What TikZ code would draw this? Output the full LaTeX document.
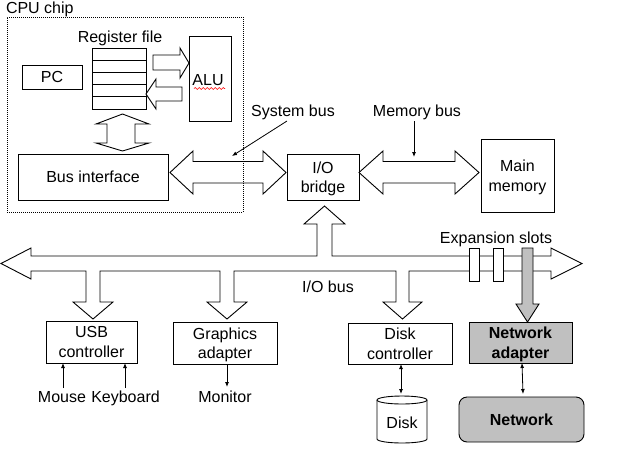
\documentclass[tikz,border=0pt]{standalone}
\usepackage{fontspec}
\setmainfont{Liberation Sans}
\usetikzlibrary{arrows.meta,decorations.pathmorphing}
\definecolor{netgray}{RGB}{192,192,192}
\begin{document}
\begin{tikzpicture}[x=1pt,y=-1pt,
  every node/.style={font=\fontsize{16}{19.5}\selectfont, inner sep=0pt, outer sep=0pt},
  box/.style={draw, line width=0.9pt, align=center},
  ml/.style={text depth=0pt},
  fat/.style={draw, line width=0.9pt, fill=white},
  tarrow/.style={line width=0.8pt, -{Latex[length=5pt,width=4pt]}},
  darrow/.style={line width=0.8pt, {Latex[length=5pt,width=4pt]}-{Latex[length=5pt,width=4pt]}},
  lbl/.style={anchor=base},
  boldtxt/.style={font=\fontsize{16}{19.5}\selectfont\bfseries}]
\useasboundingbox (0,0) rectangle (619,456);

% CPU internals
\node[lbl] (regl) at (120,42) {Register file};
\node[box, minimum width=54pt, minimum height=61pt] (reg) at (119,78.5) {};
\foreach \yy in {60.2,72.4,84.6,96.8} \draw[line width=0.9pt] (92,\yy) -- (146,\yy);
\node[box, minimum width=60pt, minimum height=24pt] (pc) at (52,77) {PC};
\node[box, minimum width=42pt, minimum height=85pt] (alu) at (210,78.5) {};
\node[lbl] (alut) at (208,85) {ALU};
\draw[red, line width=0.6pt, decorate, decoration={snake, amplitude=0.9pt, segment length=4pt}] (194,88.5) -- (225,88.5);

\draw[fat] (153,55) -- (180,55) -- (180,48) -- (189,63) -- (180,78) -- (180,70) -- (153,70) -- cycle;
\draw[fat] (146,94) -- (156,79) -- (156,87) -- (182,87) -- (182,101) -- (156,101) -- (156,109) -- cycle;
\draw[fat] (122.5,114) -- (149,124) -- (135,124) -- (135,143) -- (149,143) -- (122.5,151) -- (96,143) -- (107,143) -- (107,124) -- (96,124) -- cycle;

\node[box, minimum width=150pt, minimum height=46pt] (bi) at (93,177) {Bus interface};

% system bus
\draw[fat] (170,172.5) -- (193,151) -- (193,161.5) -- (263,161.5) -- (263,151) -- (286,172.5) -- (263,194) -- (263,183) -- (193,183) -- (193,194) -- cycle;

% CPU chip border
\node[draw, line width=0.7pt, dash pattern=on 1pt off 1pt, minimum width=236pt, minimum height=195pt] (cpu) at (125,114.5) {};
\node[anchor=base west] (cpulbl) at (6,13.5) {CPU chip};

\node[box, ml, minimum width=72pt, minimum height=46pt] (iob) at (323,177) {I/O\\bridge};
\node[box, ml, minimum width=73pt, minimum height=73pt] (mem) at (517.5,175.5) {Main\\memory};

% memory bus
\draw[fat] (359,172.5) -- (383,151) -- (383,161.5) -- (455,161.5) -- (455,151) -- (479,172.5) -- (455,194) -- (455,183) -- (383,183) -- (383,194) -- cycle;

\node[lbl] (sbl) at (293,116) {System bus};
\coordinate (sbt) at (232,156);
\draw[tarrow] ([xshift=-6pt,yshift=-5pt]sbl.base) -- (sbt);
\node[lbl] (mbl) at (417,116) {Memory bus};
\coordinate (mbt) at (414,157);
\draw[tarrow] ([xshift=-3pt,yshift=-5pt]mbl.base) -- (mbt);

% I/O bus
\draw[fat] (1,263.5) -- (31,248) -- (31,256) -- (317,256) -- (317,224) -- (304,224) -- (324.5,206) -- (345,224) -- (332,224) -- (332,256) -- (551,256) -- (551,248) -- (582,263.5) -- (551,279) -- (551,271)
  -- (409,271) -- (409,302) -- (422,302) -- (402.5,319) -- (383,302) -- (396,302) -- (396,271)
  -- (234,271) -- (234,302) -- (247,302) -- (227,319) -- (207,302) -- (220,302) -- (220,271)
  -- (100,271) -- (100,302) -- (113,302) -- (93,319) -- (73,302) -- (86,302) -- (86,271)
  -- (31,271) -- (31,279) -- cycle;
\node[lbl] (iobus) at (328,292) {I/O bus};
\node[lbl] (exp) at (496,243) {Expansion slots};
\node[draw, line width=0.9pt, fill=white, minimum width=10pt, minimum height=33pt] (s1) at (474,264.5) {};
\node[draw, line width=0.9pt, fill=white, minimum width=10pt, minimum height=33pt] (s2) at (498,264.5) {};
\draw[line width=0.9pt, fill=netgray] (522,248) -- (533,248) -- (533,304) -- (539,304) -- (527.5,322) -- (516,304) -- (522,304) -- cycle;

% devices
\node[box, ml, minimum width=91pt, minimum height=42pt] (usb) at (91.5,342) {USB\\controller};
\node[box, ml, minimum width=104pt, minimum height=42pt] (gfx) at (225,343) {Graphics\\adapter};
\node[box, ml, minimum width=104pt, minimum height=41pt] (dc) at (400,343.5) {Disk\\controller};
\node[box, ml, boldtxt, fill=netgray, minimum width=103pt, minimum height=41pt] (na) at (520.5,342.5) {Network\\adapter};
\node[box, boldtxt, fill=netgray, rounded corners=8pt, minimum width=125pt, minimum height=45pt] (net) at (521.5,419.5) {Network};

% disk
\draw[line width=0.9pt, fill=white] (377,400) -- (377,439) arc[start angle=180, end angle=360, x radius=25pt, y radius=4pt] -- (427,400) arc[start angle=0, end angle=180, x radius=25pt, y radius=4pt] -- cycle;
\draw[line width=0.9pt] (377,400) arc[start angle=180, end angle=360, x radius=25pt, y radius=4pt];
\node[lbl] (disk) at (402,428) {Disk};

\node[lbl] (mouse) at (62,402) {Mouse};
\node[lbl] (kbd) at (125.5,402) {Keyboard};
\node[lbl] (mon) at (225,402) {Monitor};
\coordinate (ma) at (63,388);
\coordinate (ka) at (125,388);
\coordinate (mo) at (227,387);
\coordinate (dtop) at (401,394);
\draw[tarrow] (ma) -- (ma |- usb.south);
\draw[tarrow] (ka) -- (ka |- usb.south);
\draw[tarrow] (mo |- gfx.south) -- (mo);
\draw[darrow] (dtop |- dc.south) -- (dtop);
\draw[darrow] ([xshift=1.5pt]na.south) -- ([xshift=1.5pt,yshift=3pt]net.north);
\end{tikzpicture}
\end{document}
